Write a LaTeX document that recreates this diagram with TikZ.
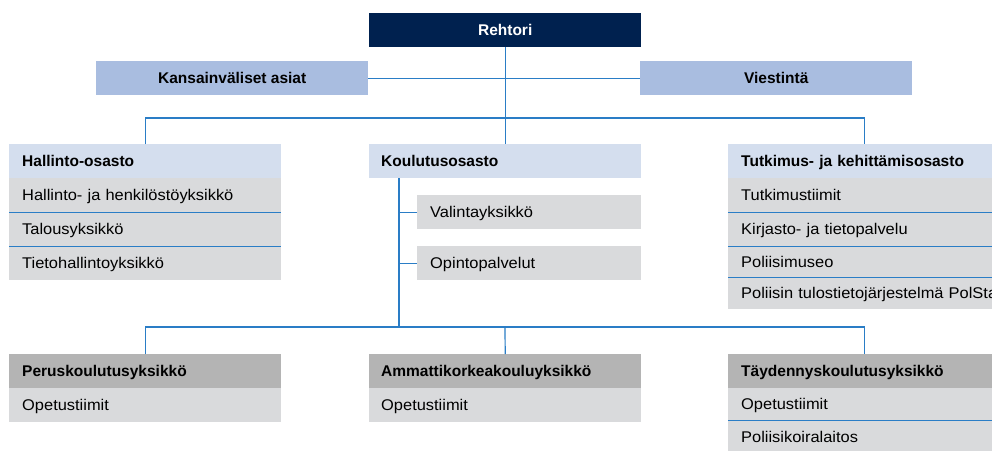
\documentclass[tikz,border=0pt]{standalone}
\usepackage{fontspec}
\setmainfont{Liberation Sans}
\newfontfamily\regf{Liberation Sans}[FakeStretch=1.06]
\newfontfamily\boldf{Liberation Sans Bold}
\definecolor{navy}{HTML}{00214F}
\definecolor{midblue}{HTML}{A9BDE0}
\definecolor{paleblue}{HTML}{D4DEEE}
\definecolor{rowgray}{HTML}{D9DADC}
\definecolor{headgray}{HTML}{B4B4B4}
\definecolor{linkblue}{HTML}{2A7DC6}
\tikzset{
  box/.style={anchor=north west, inner ysep=0pt, minimum height=34pt, text height=12.5pt, text depth=1.5pt},
  cbox/.style={box, inner xsep=0pt, minimum width=272pt, align=center, font=\boldf\fontsize{15.5}{18}\selectfont},
  lbox/.style={box, inner xsep=13pt, text width=#1, align=left},
  lbox/.default=246pt,
  head/.style={font=\boldf\fontsize{15.5}{18}\selectfont},
  item/.style={fill=rowgray, font=\regf\fontsize{15.5}{18}\selectfont},
  sep/.style={draw=linkblue, line width=1.2pt},
  conn/.style={draw=linkblue, line width=1.2pt},
}
\begin{document}
\begin{tikzpicture}[x=1pt,y=-1pt]
\clip (0,0) rectangle (992,450);
\fill[white] (0,0) rectangle (992,450);
% top level
\node[cbox, fill=navy, text=white] (reh) at (369,13) {Rehtori};
\node[cbox, fill=midblue] (kan) at (96,61) {Kansainväliset asiat};
\node[cbox, fill=midblue] (vie) at (640,61) {Viestintä};
% Hallinto-osasto
\node[lbox, head, fill=paleblue] (hal) at (9,144) {Hallinto-osasto};
\node[lbox, item] (hal1) at (9,178) {Hallinto- ja henkilöstöyksikkö};
\node[lbox, item] (hal2) at (9,212) {Talousyksikkö};
\node[lbox, item] (hal3) at (9,246) {Tietohallintoyksikkö};
\draw[sep] (hal1.south west) -- (hal1.south east);
\draw[sep] (hal2.south west) -- (hal2.south east);
% Koulutusosasto
\node[lbox, head, fill=paleblue, inner xsep=12pt, text width=248pt] (kou) at (369,144) {Koulutusosasto};
\node[lbox=198pt, item] (val) at (417,195) {Valintayksikkö};
\node[lbox=198pt, item] (opi) at (417,246) {Opintopalvelut};
% Tutkimus- ja kehittamisosasto
\node[lbox, head, fill=paleblue] (tut) at (728,144) {Tutkimus- ja kehittämisosasto};
\node[lbox=320pt, item] (tut1) at (728,178) {Tutkimustiimit};
\node[lbox=320pt, item] (tut2) at (728,212) {Kirjasto- ja tietopalvelu};
\node[lbox=320pt, item, minimum height=31pt] (tut3) at (728,246) {Poliisimuseo};
\node[lbox=320pt, item, minimum height=32pt] (tut4) at (728,277) {Poliisin tulostietojärjestelmä PolStat};
\draw[sep] (tut1.south west) -- (tut1.south east);
\draw[sep] (tut2.south west) -- (tut2.south east);
\draw[sep] (tut3.south west) -- (tut3.south east);
% bottom units
\node[lbox, head, fill=headgray] (per) at (9,354) {Peruskoulutusyksikkö};
\node[lbox, item] (per1) at (9,388) {Opetustiimit};
\node[lbox, head, fill=headgray, inner xsep=12pt, text width=248pt] (amk) at (369,354) {Ammattikorkeakouluyksikkö};
\node[lbox, item, inner xsep=12pt, text width=248pt] (amk1) at (369,388) {Opetustiimit};
\node[lbox, head, fill=headgray] (tay) at (728,354) {Täydennyskoulutusyksikkö};
\node[lbox=320pt, item, minimum height=32pt] (tay1) at (728,388) {Opetustiimit};
\node[lbox=320pt, item] (tay2) at (728,420) {Poliisikoiralaitos};
\draw[sep] (tay1.south west) -- (tay1.south east);
% connectors
\coordinate (bus1) at (505,118);
\coordinate (kv) at (399,327);
\coordinate (bus2) at (505,327);
\draw[conn] (kan.east) -- (vie.west);
\draw[conn] (reh.south) -- (kou.north);
\draw[conn] (hal.north) |- (bus1) -| (tut.north);
\draw[conn] (kou.south -| kv) -- (kv);
\draw[conn] (val.west -| kv) -- (val.west);
\draw[conn] (opi.west -| kv) -- (opi.west);
\draw[conn] (per.north) |- (bus2) -| (tay.north);
\draw[conn] (bus2) -- (amk.north);
\end{tikzpicture}
\end{document}
